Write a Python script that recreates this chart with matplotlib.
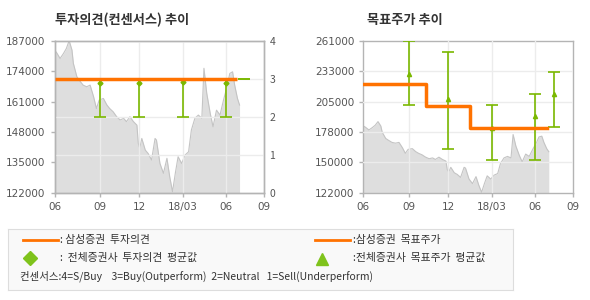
import numpy as np
import matplotlib
matplotlib.use("Agg")
import matplotlib.pyplot as plt
from matplotlib.lines import Line2D

plt.rcParams['font.family'] = ['Noto Sans CJK KR', 'DejaVu Sans']

# x axis in trading-day index
tick_pos = [0, 65, 121, 184, 245, 300]
tick_labels = ['06', '09', '12', '18/03', '06', '09']

# close price
price_day = [0, 3, 8, 13, 17, 21, 25, 27, 32, 37, 41, 46, 51, 56, 60, 64, 70, 75, 79, 84,
             89, 94, 99, 103, 108, 113, 118, 120, 122, 125, 130, 134, 139, 144, 146, 151,
             156, 161, 165, 169, 173, 177, 182, 187, 192, 196, 201, 206, 211, 214, 218,
             223, 227, 232, 237, 242, 247, 251, 255, 258, 262, 265]
price = [183000, 181900, 179400, 181600, 183700, 187000, 183000, 177300, 171600, 169500,
         168000, 167300, 168000, 163000, 158000, 161600, 162300, 159500, 158000, 156600,
         154500, 153100, 153800, 152400, 154500, 152400, 150900, 143100, 141000, 145200,
         140200, 138800, 136000, 145200, 144500, 134500, 130300, 136700, 128800, 122400,
         130300, 137400, 134500, 138100, 139500, 148800, 153800, 155200, 153800, 175200,
         164500, 155900, 150200, 157300, 155200, 161600, 167300, 173000, 173700, 168000,
         162300, 159500]

# Samsung consensus opinion
opinion_day = [0, 262]
opinion = [3, 3]

# all brokers consensus: position, average, min, max
cons_day = [65, 121, 184, 245]
cons_avg = [2.9, 2.88, 2.91, 2.89]
cons_min = [2, 2, 2, 2]
cons_max = [3, 3, 3, 3]
cons_last_day = 272
cons_last = 3

# Samsung target price (step)
target_day = [0, 90, 153, 263]
target = [221500, 201500, 181500, 181500]

# all brokers target price: position, average, min, max
tp_day = [65, 121, 184, 245, 272]
tp_avg = [230900, 207800, 181500, 192500, 212300]
tp_min = [202000, 161800, 151800, 151800, 182200]
tp_max = [261000, 251000, 202000, 212000, 232100]

left_ticks = [122000, 135000, 148000, 161000, 174000, 187000]
right_ticks = [122000 + 27800 * k for k in range(6)]

ORANGE = '#ff7200'
GREEN = '#7ab800'
FILL = '#dedede'
EDGE = '#c4c4c4'
GRID = '#ececec'
SPINE = '#b4b4b4'
TXT = '#555555'

fig = plt.figure(figsize=(5.9, 3.0), dpi=100)


def style_axes(ax):
    for s in ax.spines.values():
        s.set_color(SPINE)
        s.set_linewidth(1)
    ax.tick_params(colors=SPINE, labelcolor=TXT, labelsize=7.5, length=3, width=1)
    ax.set_xlim(0, 300)
    ax.set_xticks(tick_pos)
    ax.set_xticklabels(tick_labels, family='DejaVu Sans')


# ---- left: investment opinion ----
ax1 = fig.add_axes([54.5 / 590, 107.3 / 300, 209.5 / 590, 152 / 300])
ax1.fill_between(price_day, price, 122000, color=FILL, lw=0, zorder=1)
ax1.plot(price_day, price, color=EDGE, lw=0.8, zorder=2)
ax1.set_ylim(122000, 187000)
ax1.set_yticks(left_ticks)
ax1.set_yticklabels([str(v) for v in left_ticks], family='DejaVu Sans')
style_axes(ax1)
for x in tick_pos[1:-1]:
    ax1.axvline(x, color=GRID, lw=1, zorder=3)

ax1b = ax1.twinx()
ax1b.set_ylim(0, 4)
ax1b.set_yticks([0, 1, 2, 3, 4])
style_axes(ax1b)
ax1b.tick_params(axis='y', length=0, pad=4)
for v in [1, 2, 3]:
    ax1b.axhline(v, color=GRID, lw=1, zorder=0)
lo = np.array(cons_avg) - np.array(cons_min)
hi = np.array(cons_max) - np.array(cons_avg)
ax1b.errorbar(cons_day, cons_avg, yerr=[lo, hi], fmt='D', ms=2.5, color=GREEN,
              ecolor=GREEN, elinewidth=1.2, capsize=4, capthick=1.2, zorder=4)
ax1b.errorbar([cons_last_day], [cons_last], yerr=[[0], [0]], fmt='none',
              ecolor=GREEN, elinewidth=1.2, capsize=4, capthick=1.2, zorder=4)
ax1b.plot(opinion_day, opinion, color=ORANGE, lw=2.5, zorder=5, solid_capstyle='butt')

fig.text(55 / 590, 1 - 20 / 300, '투자의견(컨센서스) 추이', fontsize=9.5, fontweight='bold',
         color='#333333', va='center')

# ---- right: target price ----
ax2 = fig.add_axes([363.3 / 590, 107.3 / 300, 210 / 590, 152 / 300])
ax2.fill_between(price_day, price, 122000, color=FILL, lw=0, zorder=1)
ax2.plot(price_day, price, color=EDGE, lw=0.8, zorder=2)
ax2.set_ylim(122000, 261000)
ax2.set_yticks(right_ticks)
ax2.set_yticklabels([str(int(round(v, -3))) for v in right_ticks], family='DejaVu Sans')
style_axes(ax2)
for x in tick_pos[1:-1]:
    ax2.axvline(x, color=GRID, lw=1, zorder=3)
for v in right_ticks[1:-1]:
    ax2.axhline(v, color=GRID, lw=1, zorder=3)
lo = np.array(tp_avg) - np.array(tp_min)
hi = np.array(tp_max) - np.array(tp_avg)
ax2.errorbar(tp_day, tp_avg, yerr=[lo, hi], fmt='^', ms=3, color=GREEN,
             ecolor=GREEN, elinewidth=1.2, capsize=4, capthick=1.2, zorder=4)
ax2.step(target_day, target, where='post', color=ORANGE, lw=2.5, zorder=5)

fig.text(367 / 590, 1 - 20 / 300, '목표주가 추이', fontsize=9.5, fontweight='bold',
         color='#333333', va='center')

# ---- legend box ----
lg = fig.add_axes([7.5 / 590, 1 - 289.5 / 300, 505.5 / 590, 61 / 300])
lg.set_xlim(0, 505.5)
lg.set_ylim(61, 0)
lg.set_facecolor('#f9f9f9')
lg.set_xticks([])
lg.set_yticks([])
for s in lg.spines.values():
    s.set_color('#dddddd')

lkw = dict(fontsize=7.8, color='#333333', va='center')
lg.add_line(Line2D([15.5, 50.5], [11.5, 11.5], color=ORANGE, lw=2))
lg.text(52.5, 11.5, ': 삼성증권  투자의견', **lkw)
lg.add_line(Line2D([307.5, 342.5], [11.5, 11.5], color=ORANGE, lw=2))
lg.text(345.5, 11.5, ':삼성증권  목표주가', **lkw)
lg.plot([22.5], [29.5], marker='D', ms=7, color='#7fc31c', ls='none')
lg.text(52.5, 29.5, ':  전체증권사  투자의견  평균값', **lkw)
lg.plot([314.5], [30.5], marker='^', ms=8, color='#7fc31c', ls='none')
lg.text(345.5, 29.5, ':전체증권사  목표주가  평균값', **lkw)
lg.text(12.5, 48, '컨센서스:4=S/Buy    3=Buy(Outperform)  2=Neutral   1=Sell(Underperform)',
        fontsize=7.5, color='#333333', va='center')

fig.savefig('out.png', dpi=100)
